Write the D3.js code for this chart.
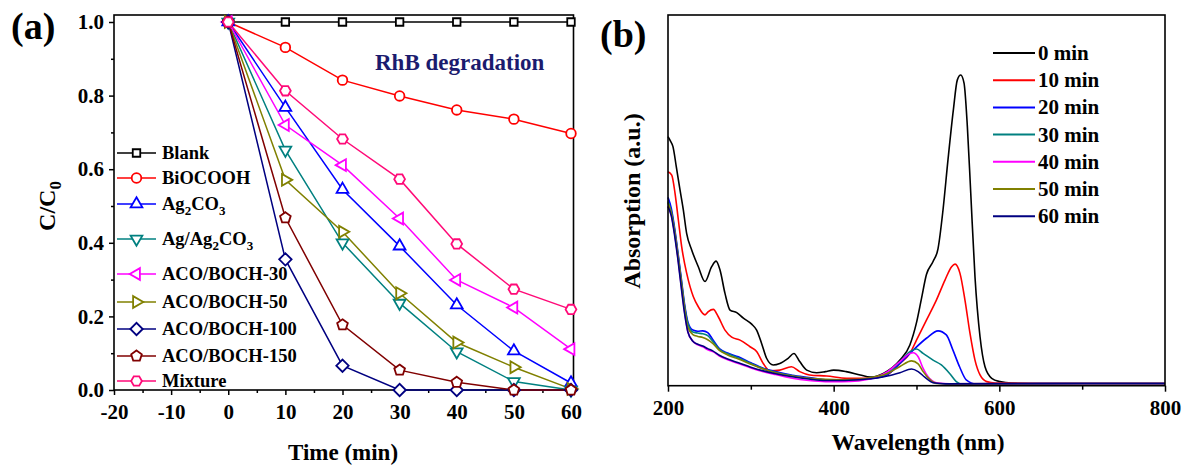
<!DOCTYPE html>
<html><head><meta charset="utf-8">
<script src="https://cdn.jsdelivr.net/npm/d3@7"></script>
<style>
body{margin:0;background:#fff}
svg{display:block}
text{font-family:"Liberation Serif","Times New Roman",serif;font-weight:bold;fill:#000}
</style>
</head><body>
<svg id="c" width="1183" height="466"></svg>
<script>
// ---------------- DATA: panel (a) ----------------
const times = [0, 10, 20, 30, 40, 50, 60];
const blank    = [1, 1, 1, 1, 1, 1, 1];
const biocooh  = [1, 0.931, 0.842, 0.799, 0.761, 0.736, 0.697];
const ag2co3   = [1, 0.768, 0.545, 0.391, 0.231, 0.106, 0.019];
const agag2co3 = [1, 0.652, 0.400, 0.236, 0.104, 0.023, 0.000];
const aco30    = [1, 0.720, 0.611, 0.466, 0.299, 0.224, 0.111];
const aco50    = [1, 0.571, 0.430, 0.263, 0.129, 0.062, 0.003];
const aco100   = [1, 0.355, 0.066, 0.000, 0.000, 0.000, 0.000];
const aco150   = [1, 0.468, 0.177, 0.054, 0.021, 0.000, 0.000];
const mixture  = [1, 0.813, 0.682, 0.573, 0.397, 0.274, 0.219];
const xTicksA = [-20, -10, 0, 10, 20, 30, 40, 50, 60];
const yTicksA = [0, 0.2, 0.4, 0.6, 0.8, 1.0];

// ---------------- DATA: panel (b) spectra [nm, absorption a.u.] ----------------
const spec0 = [[200,0.672],[203,0.66],[206,0.645],[210,0.591],[214.5,0.528],[218.5,0.474],[222.5,0.411],[228.6,0.366],[236.6,0.321],[244.7,0.281],[252.7,0.321],[258,0.336],[262.8,0.312],[268.8,0.249],[274.9,0.204],[283,0.197],[291,0.182],[301,0.166],[307,0.15],[313,0.114],[319,0.074],[327,0.056],[335,0.06],[345,0.074],[352,0.087],[359,0.065],[367.5,0.042],[379.5,0.035],[390,0.038],[400,0.042],[415,0.038],[432,0.029],[444,0.023],[460,0.033],[480,0.069],[492,0.11],[500,0.17],[506,0.235],[512,0.3],[520,0.335],[526,0.37],[532,0.474],[538,0.609],[544.5,0.744],[549.3,0.825],[553.4,0.838],[557.4,0.816],[561.4,0.699],[565.5,0.519],[570.6,0.294],[576.7,0.132],[582.7,0.051],[590.8,0.02],[600.8,0.011],[615,0.007],[650,0.006],[700,0.006],[750,0.006],[800,0.006]];
const spec10 = [[200,0.577],[204.5,0.568],[208.5,0.519],[212.5,0.447],[216.5,0.375],[222.6,0.303],[230.6,0.24],[236.6,0.213],[244.7,0.191],[248.7,0.2],[254.7,0.206],[260.7,0.186],[268.8,0.15],[276.9,0.131],[287,0.123],[299,0.105],[307,0.092],[315,0.06],[323,0.04],[335,0.042],[349,0.051],[359,0.038],[371,0.029],[391.6,0.026],[415.7,0.02],[444,0.02],[464,0.029],[480,0.06],[492,0.087],[500,0.123],[512,0.177],[524,0.231],[534.4,0.285],[542.4,0.321],[546.5,0.328],[552.5,0.303],[558.5,0.231],[564.6,0.141],[570.6,0.069],[576.7,0.029],[584.8,0.011],[595,0.007],[650,0.006],[700,0.006],[800,0.006]];
const spec20 = [[200,0.508],[204,0.478],[208,0.425],[212,0.36],[216,0.29],[220,0.22],[224,0.172],[230,0.15],[236,0.147],[242,0.148],[248,0.143],[254,0.125],[262,0.1],[272,0.088],[285,0.078],[300,0.062],[315,0.047],[330,0.038],[350,0.028],[370,0.022],[390,0.016],[410,0.014],[430,0.016],[450,0.02],[465,0.03],[480,0.06],[496,0.096],[512,0.128],[526,0.148],[536,0.137],[544,0.096],[552,0.051],[560,0.016],[572,0.005],[600,0.005],[700,0.006],[800,0.006]];
const spec30 = [[200,0.497],[204,0.47],[208,0.42],[212,0.355],[216,0.285],[220,0.215],[224,0.168],[230,0.145],[236,0.142],[242,0.14],[248,0.135],[254,0.12],[262,0.098],[272,0.086],[285,0.075],[300,0.06],[315,0.046],[330,0.036],[350,0.027],[370,0.02],[390,0.015],[410,0.014],[430,0.016],[450,0.022],[465,0.035],[480,0.065],[492,0.092],[500,0.099],[508,0.087],[520,0.069],[530,0.056],[540,0.033],[548,0.011],[555,0.004],[600,0.005],[700,0.006],[800,0.006]];
const spec40 = [[200,0.485],[204,0.46],[208,0.41],[212,0.345],[216,0.27],[220,0.2],[224,0.145],[230,0.12],[236,0.11],[242,0.105],[248,0.097],[254,0.092],[262,0.08],[272,0.07],[285,0.06],[300,0.048],[315,0.038],[330,0.03],[350,0.02],[370,0.014],[390,0.011],[410,0.011],[430,0.013],[450,0.022],[465,0.038],[480,0.065],[492,0.087],[496,0.089],[502,0.078],[508,0.047],[514,0.024],[524,0.008],[540,0.005],[700,0.006],[800,0.006]];
const spec50 = [[200,0.493],[204,0.466],[208,0.415],[212,0.35],[216,0.28],[220,0.21],[224,0.158],[230,0.138],[236,0.133],[242,0.13],[248,0.124],[254,0.114],[262,0.095],[272,0.083],[285,0.072],[300,0.058],[315,0.045],[330,0.035],[350,0.026],[370,0.02],[390,0.017],[410,0.016],[430,0.017],[450,0.024],[465,0.033],[480,0.052],[494,0.067],[502,0.059],[508,0.038],[516,0.017],[524,0.006],[540,0.005],[700,0.006],[800,0.006]];
const spec60 = [[200,0.483],[204,0.458],[208,0.405],[212,0.34],[216,0.265],[220,0.195],[224,0.145],[230,0.12],[236,0.112],[242,0.107],[248,0.1],[254,0.094],[262,0.082],[272,0.072],[285,0.062],[300,0.05],[315,0.04],[330,0.032],[350,0.024],[370,0.018],[390,0.014],[410,0.014],[430,0.016],[450,0.02],[465,0.026],[480,0.035],[494,0.045],[502,0.038],[510,0.023],[520,0.008],[535,0.005],[700,0.006],[800,0.006]];
const specLabels = ["0 min","10 min","20 min","30 min","40 min","50 min","60 min"];
const xTicksB = [200, 400, 600, 800];
const xMinorB = [300, 500, 700];

// ---------------- STYLE / LAYOUT ----------------
const svg = d3.select("#c");
svg.append("rect").attr("width",1183).attr("height",466).attr("fill","#fff");

const seriesA = [
  {name:[["Blank"]], v:blank, color:"#000000", sym:"square"},
  {name:[["BiOCOOH"]], v:biocooh, color:"#ff0000", sym:"circle"},
  {name:[["Ag"],["2",1],["CO"],["3",1]], v:ag2co3, color:"#0000ff", sym:"tup"},
  {name:[["Ag/Ag"],["2",1],["CO"],["3",1]], v:agag2co3, color:"#008080", sym:"tdown"},
  {name:[["ACO/BOCH-30"]], v:aco30, color:"#ff00ff", sym:"tleft"},
  {name:[["ACO/BOCH-50"]], v:aco50, color:"#808000", sym:"tright"},
  {name:[["ACO/BOCH-100"]], v:aco100, color:"#000080", sym:"diamond"},
  {name:[["ACO/BOCH-150"]], v:aco150, color:"#800000", sym:"pentagon"},
  {name:[["Mixture"]], v:mixture, color:"#ff0a78", sym:"hexagon"}
];
const legendRowsA = [153,178,204,239,274,302,329,356,381];

function poly(n, r, rotDeg){
  const p = d3.path();
  for(let i=0;i<n;i++){
    const a = (rotDeg + i*360/n)*Math.PI/180;
    const x = r*Math.cos(a), y = r*Math.sin(a);
    if(i===0) p.moveTo(x,y); else p.lineTo(x,y);
  }
  p.closePath();
  return p.toString();
}
function symPath(s){
  switch(s){
    case "square": return poly(4,5.3,45);
    case "circle": { const p=d3.path(); p.arc(0,0,4.8,0,2*Math.PI); return p.toString(); }
    case "tup": return poly(3,6.8,-90);
    case "tdown": return poly(3,6.8,90);
    case "tleft": return poly(3,6.8,180);
    case "tright": return poly(3,6.8,0);
    case "diamond": return poly(4,6.2,0);
    case "pentagon": return poly(5,5.6,-90);
    case "hexagon": return poly(6,5.4,0);
  }
}
const fmtInt = d => String(d);

// ---------------- PANEL (a) ----------------
const xA = d3.scaleLinear().domain([-20,60]).range([114,571]);
const yA = d3.scaleLinear().domain([0,1]).range([390,22]);
const ga = svg.append("g");

ga.append("rect").attr("x",114).attr("y",15).attr("width",573.5-114).attr("height",390-15)
  .attr("fill","none").attr("stroke","#000").attr("stroke-width",1.6);

const axXA = ga.append("g").attr("transform","translate(0,390)")
  .call(d3.axisBottom(xA).tickValues(xTicksA).tickSize(5).tickSizeOuter(0).tickPadding(9).tickFormat(fmtInt));
const axXAm = ga.append("g").attr("transform","translate(0,390)")
  .call(d3.axisBottom(xA).tickValues(d3.range(-15,60,10)).tickSize(3).tickSizeOuter(0).tickFormat(""));
const axYA = ga.append("g").attr("transform","translate(114,0)")
  .call(d3.axisLeft(yA).tickValues(yTicksA).tickSize(5).tickSizeOuter(0).tickPadding(5).tickFormat(d3.format(".1f")));
const axYAm = ga.append("g").attr("transform","translate(114,0)")
  .call(d3.axisLeft(yA).tickValues([0.1,0.3,0.5,0.7,0.9]).tickSize(3).tickSizeOuter(0).tickFormat(""));
[axXA,axXAm,axYA,axYAm].forEach(a=>{
  a.select(".domain").remove();
  a.selectAll("line").attr("stroke","#000").attr("stroke-width",1.5);
  a.selectAll("text").style("font-size","21px").style("font-family","'Liberation Serif',serif").style("font-weight","bold");
});

const lineA = d3.line().x((d,i)=>xA(times[i])).y(d=>yA(d));
seriesA.forEach(s=>{
  ga.append("path").attr("d",lineA(s.v)).attr("fill","none").attr("stroke",s.color).attr("stroke-width",1.5);
});
seriesA.forEach(s=>{
  ga.selectAll(null).data(s.v).enter().append("path")
    .attr("d",symPath(s.sym))
    .attr("transform",(d,i)=>`translate(${xA(times[i])},${yA(d)})`)
    .attr("fill","#fff").attr("stroke",s.color).attr("stroke-width",1.8);
});

// legend (a)
seriesA.forEach((s,i)=>{
  const y = legendRowsA[i];
  ga.append("line").attr("x1",117).attr("x2",156).attr("y1",y).attr("y2",y).attr("stroke",s.color).attr("stroke-width",1.5);
  ga.append("path").attr("d",symPath(s.sym)).attr("transform",`translate(136.5,${y})`)
    .attr("fill","#fff").attr("stroke",s.color).attr("stroke-width",1.8);
  const t = ga.append("text").attr("x",162).attr("y",y+6).style("font-size","18.5px");
  s.name.forEach((part,k)=>{
    const ts = t.append("tspan").text(part[0]);
    if(part[1]) ts.attr("dy",5).style("font-size","13px");
    else if(k>0) ts.attr("dy",-5);
  });
});

ga.append("text").attr("x",375).attr("y",70).style("font-size","23px").style("fill","#1b1b6e").text("RhB degradation");

ga.append("text").attr("x",343).attr("y",460).attr("text-anchor","middle").style("font-size","23px").text("Time (min)");
const ylab = ga.append("text").attr("transform","translate(55,206) rotate(-90)").attr("text-anchor","middle").style("font-size","24px");
ylab.append("tspan").text("C/C");
ylab.append("tspan").attr("dy",6).style("font-size","17px").text("0");
ga.append("text").attr("x",11).attr("y",39).style("font-size","38px").text("(a)");

// ---------------- PANEL (b) ----------------
const xB = d3.scaleLinear().domain([200,800]).range([668,1165]);
const yB = d3.scaleLinear().domain([0,1]).range([385.7,15]);
const gb = svg.append("g");
const specs = [
  {d:spec0, color:"#000000"},
  {d:spec10, color:"#ff0000"},
  {d:spec20, color:"#0000ff"},
  {d:spec30, color:"#008080"},
  {d:spec40, color:"#ff00ff"},
  {d:spec50, color:"#808000"},
  {d:spec60, color:"#000080"}
];
const lineB = d3.line().x(d=>xB(d[0])).y(d=>yB(d[1])).curve(d3.curveMonotoneX);
specs.forEach(s=>{
  gb.append("path").attr("d",lineB(s.d)).attr("fill","none").attr("stroke",s.color).attr("stroke-width",1.6);
});
gb.append("rect").attr("x",668).attr("y",15).attr("width",1165-668).attr("height",385.7-15)
  .attr("fill","none").attr("stroke","#000").attr("stroke-width",1.6);
const axXB = gb.append("g").attr("transform","translate(0,385.7)")
  .call(d3.axisBottom(xB).tickValues(xTicksB).tickSize(6).tickSizeOuter(0).tickPadding(8).tickFormat(fmtInt));
const axXBm = gb.append("g").attr("transform","translate(0,385.7)")
  .call(d3.axisBottom(xB).tickValues(xMinorB).tickSize(4).tickSizeOuter(0).tickFormat(""));
[axXB,axXBm].forEach(a=>{
  a.select(".domain").remove();
  a.selectAll("line").attr("stroke","#000").attr("stroke-width",1.5);
  a.selectAll("text").style("font-size","21px").style("font-family","'Liberation Serif',serif").style("font-weight","bold");
});

// legend (b)
specLabels.forEach((lab,i)=>{
  const y = 53 + i*27.2;
  gb.append("line").attr("x1",993).attr("x2",1035).attr("y1",y).attr("y2",y).attr("stroke",specs[i].color).attr("stroke-width",2);
  gb.append("text").attr("x",1038).attr("y",y+7).style("font-size","21px").text(lab);
});

gb.append("text").attr("x",918).attr("y",450).attr("text-anchor","middle").style("font-size","23.5px").text("Wavelength (nm)");
gb.append("text").attr("transform","translate(640,201) rotate(-90)").attr("text-anchor","middle").style("font-size","24px").text("Absorption (a.u.)");
gb.append("text").attr("x",600).attr("y",47).style("font-size","38px").text("(b)");
</script>
</body></html>
